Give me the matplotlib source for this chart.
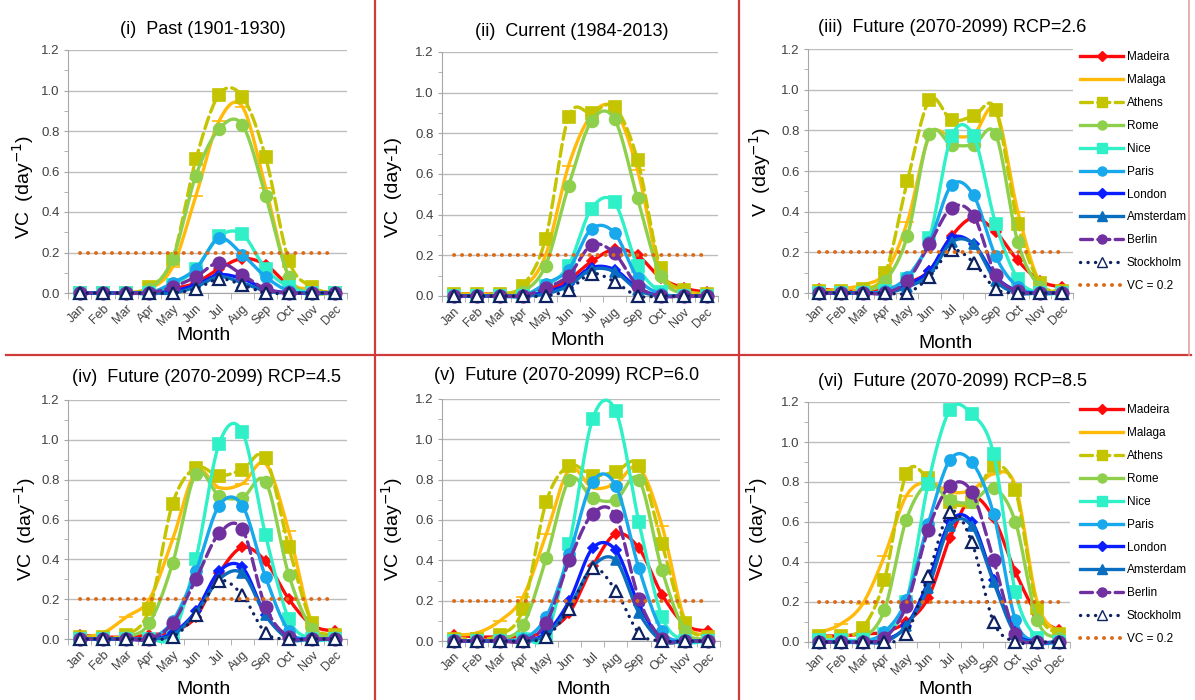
import numpy as np
import matplotlib
matplotlib.use('Agg')
import matplotlib.pyplot as plt
from matplotlib.lines import Line2D

plt.rcParams['font.family'] = ['Liberation Sans', 'DejaVu Sans']

months = ['Jan', 'Feb', 'Mar', 'Apr', 'May', 'Jun', 'Jul', 'Aug', 'Sep', 'Oct', 'Nov', 'Dec']
cities = ['Madeira', 'Malaga', 'Athens', 'Rome', 'Nice', 'Paris', 'London', 'Amsterdam', 'Berlin', 'Stockholm']
vc_threshold = 0.2

# rows follow the order of `cities`, columns Jan..Dec
vc_past = [
    [0, 0, 0, 0, 0.02, 0.05, 0.12, 0.17, 0.14, 0.04, 0.01, 0],
    [0, 0, 0, 0.02, 0.13, 0.48, 0.85, 0.92, 0.52, 0.08, 0.02, 0],
    [0, 0, 0, 0.03, 0.17, 0.66, 0.98, 0.97, 0.67, 0.16, 0.03, 0],
    [0, 0, 0, 0.02, 0.17, 0.58, 0.81, 0.83, 0.48, 0.08, 0, 0],
    [0, 0, 0, 0, 0.04, 0.12, 0.28, 0.29, 0.12, 0.03, 0, 0],
    [0, 0, 0, 0, 0.05, 0.12, 0.27, 0.19, 0.08, 0.01, 0, 0],
    [0, 0, 0, 0, 0.01, 0.04, 0.09, 0.07, 0.02, 0, 0, 0],
    [0, 0, 0, 0, 0, 0.03, 0.08, 0.05, 0.01, 0, 0, 0],
    [0, 0, 0, 0, 0.03, 0.08, 0.15, 0.09, 0.02, 0, 0, 0],
    [0, 0, 0, 0, 0, 0.02, 0.07, 0.04, 0, 0, 0, 0],
]
vc_current = [
    [0.01, 0.01, 0.01, 0.01, 0.03, 0.08, 0.17, 0.23, 0.20, 0.09, 0.04, 0.02],
    [0.01, 0.01, 0.01, 0.04, 0.20, 0.64, 0.89, 0.92, 0.62, 0.12, 0.03, 0.01],
    [0.01, 0.01, 0.01, 0.05, 0.28, 0.88, 0.90, 0.93, 0.67, 0.14, 0.03, 0.01],
    [0, 0, 0, 0.02, 0.15, 0.54, 0.86, 0.87, 0.48, 0.10, 0.01, 0],
    [0, 0, 0, 0, 0.05, 0.15, 0.43, 0.46, 0.15, 0.02, 0, 0],
    [0, 0, 0, 0, 0.06, 0.13, 0.33, 0.31, 0.09, 0.01, 0, 0],
    [0, 0, 0, 0, 0.02, 0.06, 0.14, 0.13, 0.04, 0, 0, 0],
    [0, 0, 0, 0, 0.01, 0.05, 0.13, 0.12, 0.03, 0, 0, 0],
    [0, 0, 0, 0, 0.04, 0.10, 0.25, 0.21, 0.05, 0, 0, 0],
    [0, 0, 0, 0, 0, 0.03, 0.11, 0.07, 0, 0, 0, 0],
]
vc_rcp26 = [
    [0.02, 0.01, 0.01, 0.02, 0.05, 0.11, 0.28, 0.37, 0.30, 0.16, 0.06, 0.03],
    [0.01, 0.02, 0.04, 0.10, 0.35, 0.77, 0.77, 0.78, 0.90, 0.40, 0.05, 0.01],
    [0.01, 0.01, 0.02, 0.10, 0.55, 0.95, 0.85, 0.87, 0.90, 0.34, 0.05, 0.01],
    [0, 0, 0.01, 0.06, 0.28, 0.78, 0.73, 0.73, 0.78, 0.25, 0.03, 0],
    [0, 0, 0, 0.01, 0.07, 0.27, 0.77, 0.77, 0.34, 0.07, 0, 0],
    [0, 0, 0, 0.01, 0.08, 0.25, 0.53, 0.48, 0.18, 0.03, 0, 0],
    [0, 0, 0, 0, 0.04, 0.11, 0.27, 0.24, 0.08, 0.01, 0, 0],
    [0, 0, 0, 0, 0.03, 0.09, 0.25, 0.24, 0.06, 0, 0, 0],
    [0, 0, 0, 0, 0.06, 0.24, 0.42, 0.38, 0.09, 0.01, 0, 0],
    [0, 0, 0, 0, 0, 0.08, 0.21, 0.15, 0.02, 0, 0, 0],
]
vc_rcp45 = [
    [0.02, 0.01, 0.01, 0.02, 0.04, 0.11, 0.33, 0.46, 0.39, 0.20, 0.07, 0.04],
    [0.01, 0.03, 0.11, 0.20, 0.50, 0.84, 0.76, 0.78, 0.88, 0.54, 0.08, 0.02],
    [0.01, 0.01, 0.02, 0.15, 0.68, 0.86, 0.82, 0.85, 0.91, 0.46, 0.08, 0.02],
    [0, 0, 0.01, 0.08, 0.38, 0.83, 0.72, 0.71, 0.79, 0.32, 0.05, 0.01],
    [0, 0, 0, 0, 0.02, 0.40, 0.98, 1.04, 0.52, 0.10, 0, 0],
    [0, 0, 0, 0, 0.09, 0.34, 0.67, 0.67, 0.31, 0.04, 0, 0],
    [0, 0, 0, 0, 0.03, 0.14, 0.34, 0.36, 0.12, 0.01, 0, 0],
    [0, 0, 0, 0, 0.02, 0.13, 0.30, 0.33, 0.12, 0, 0, 0],
    [0, 0, 0, 0, 0.08, 0.30, 0.53, 0.55, 0.16, 0.01, 0, 0],
    [0, 0, 0, 0, 0.01, 0.12, 0.29, 0.22, 0.03, 0, 0, 0],
]
vc_rcp60 = [
    [0.03, 0.02, 0.02, 0.02, 0.05, 0.14, 0.37, 0.53, 0.46, 0.23, 0.08, 0.05],
    [0.03, 0.04, 0.10, 0.22, 0.53, 0.85, 0.76, 0.78, 0.86, 0.57, 0.10, 0.03],
    [0.01, 0.01, 0.03, 0.16, 0.69, 0.87, 0.82, 0.84, 0.87, 0.48, 0.09, 0.02],
    [0, 0, 0.01, 0.08, 0.41, 0.80, 0.71, 0.70, 0.80, 0.35, 0.05, 0.01],
    [0, 0, 0, 0.01, 0.03, 0.48, 1.10, 1.14, 0.59, 0.12, 0, 0],
    [0, 0, 0, 0.01, 0.12, 0.43, 0.79, 0.77, 0.36, 0.05, 0, 0],
    [0, 0, 0, 0, 0.04, 0.20, 0.46, 0.45, 0.18, 0.01, 0, 0],
    [0, 0, 0, 0, 0.03, 0.17, 0.37, 0.40, 0.14, 0, 0, 0],
    [0, 0, 0, 0, 0.09, 0.40, 0.63, 0.62, 0.21, 0.01, 0, 0],
    [0, 0, 0, 0, 0.02, 0.16, 0.36, 0.25, 0.04, 0, 0, 0],
]
vc_rcp85 = [
    [0.03, 0.03, 0.04, 0.05, 0.10, 0.22, 0.52, 0.72, 0.62, 0.35, 0.14, 0.06],
    [0.05, 0.09, 0.19, 0.43, 0.73, 0.80, 0.75, 0.76, 0.84, 0.78, 0.20, 0.05],
    [0.03, 0.03, 0.07, 0.31, 0.84, 0.82, 0.70, 0.70, 0.88, 0.76, 0.17, 0.04],
    [0.01, 0.01, 0.02, 0.16, 0.61, 0.79, 0.71, 0.70, 0.77, 0.60, 0.11, 0.02],
    [0.01, 0.01, 0.01, 0.04, 0.20, 0.79, 1.16, 1.14, 0.94, 0.25, 0.02, 0],
    [0, 0, 0, 0.05, 0.21, 0.59, 0.91, 0.90, 0.64, 0.11, 0, 0],
    [0, 0, 0, 0.01, 0.08, 0.30, 0.60, 0.60, 0.31, 0.05, 0, 0],
    [0, 0, 0, 0, 0.08, 0.27, 0.58, 0.58, 0.30, 0.04, 0, 0],
    [0, 0, 0, 0.02, 0.18, 0.56, 0.78, 0.75, 0.41, 0.04, 0, 0],
    [0, 0, 0, 0, 0.04, 0.33, 0.65, 0.50, 0.10, 0, 0, 0],
]

# colour, linestyle, marker, markersize, marker face
styles = {
    'Madeira':   ('#FF0A0A', '-', 'D', 5, None),
    'Malaga':    ('#FFBA0A', '-', '_', 10, None),
    'Athens':    ('#C4C400', (0, (3.6, 1.6)), 's', 8.5, None),
    'Rome':      ('#8ED04C', '-', 'o', 8.5, None),
    'Nice':      ('#30F0C8', '-', 's', 8, None),
    'Paris':     ('#18A8EC', '-', 'o', 8, None),
    'London':    ('#0A1EFF', '-', 'D', 5, None),
    'Amsterdam': ('#0A6EC0', '-', '^', 6.5, None),
    'Berlin':    ('#7030A0', (0, (3.6, 1.6)), 'o', 9, None),
    'Stockholm': ('#0E2262', (0, (0.05, 2.2)), '^', 8, 'white'),
}
vc_color = '#DE6A16'

W, H = 1195, 700


def smooth(y, n=16):
    # Catmull-Rom curve through the monthly points, like Excel's smoothed line
    y = np.asarray(y, float)
    p = np.concatenate([[y[0]], y, [y[-1]]])
    t = np.linspace(0, 1, n, endpoint=False)
    xs, ys = [], []
    for i in range(len(y) - 1):
        p0, p1, p2, p3 = p[i], p[i + 1], p[i + 2], p[i + 3]
        seg = 0.5 * (2 * p1 + (-p0 + p2) * t + (2 * p0 - 5 * p1 + 4 * p2 - p3) * t ** 2
                     + (-p0 + 3 * p1 - 3 * p2 + p3) * t ** 3)
        xs.append(i + t)
        ys.append(seg)
    xs.append([len(y) - 1])
    ys.append([y[-1]])
    return np.concatenate(xs), np.concatenate(ys)


def rect(l, r, top, bottom):
    return [l / W, 1 - bottom / H, (r - l) / W, (bottom - top) / H]


def ftext(x, y, s, **kw):
    fig.text(x / W, 1 - y / H, s, **kw)


panels = [
    (vc_past, '(i)  Past (1901-1930)', (203, 30), 'VC  (day$^{-1}$)', (23, 187), (203, 335), rect(68, 347, 50, 293), False),
    (vc_current, '(ii)  Current (1984-2013)', (572, 31), 'VC  (day-1)', (393, 187), (577, 340), rect(442, 718, 52, 296), False),
    (vc_rcp26, '(iii)  Future (2070-2099) RCP=2.6', (952, 27), 'V  (day$^{-1}$)', (760, 172), (946, 344), rect(808, 1073, 49, 293), True),
    (vc_rcp45, '(iv)  Future (2070-2099) RCP=4.5', (207, 377), 'VC  (day$^{-1}$)', (25, 529), (203, 690), rect(68, 347, 400, 639), False),
    (vc_rcp60, '(v)  Future (2070-2099) RCP=6.0', (567, 376), 'VC  (day$^{-1}$)', (392, 529), (583, 690), rect(442, 720, 399, 641), False),
    (vc_rcp85, '(vi)  Future (2070-2099) RCP=8.5', (952, 382), 'VC  (day$^{-1}$)', (757, 529), (946, 690), rect(808, 1070, 402, 642), True),
]

fig = plt.figure(figsize=(W / 100, H / 100), dpi=100)
x = np.arange(len(months))
lw = 2.4

for data, title, tpos, ylab, ypos, xpos, box, show_legend in panels:
    ax = fig.add_axes(box)
    ax.set_xlim(-0.5, 11.5)
    ax.set_ylim(0, 1.2)
    ax.set_yticks(np.arange(0, 1.21, 0.2))
    ax.set_yticks(np.arange(0.1, 1.2, 0.2), minor=True)
    ax.set_yticklabels(['%.1f' % v for v in np.arange(0, 1.21, 0.2)])
    ax.set_xticks(x)
    ax.set_xticks(np.arange(-0.5, 12, 1), minor=True)
    ax.set_xticklabels(months, rotation=45, ha='right', rotation_mode='anchor')
    ax.tick_params(axis='x', which='major', length=0, pad=7, labelsize=9, labelcolor='#404040')
    ax.tick_params(axis='x', which='minor', length=4, color='#A6A6A6')
    ax.tick_params(axis='y', which='both', length=3, color='#A6A6A6', labelsize=9.5,
                   labelcolor='#404040', pad=3)
    ax.grid(axis='y', color='#BDBDBD', lw=1)
    ax.set_axisbelow(True)
    for s in ['top', 'right']:
        ax.spines[s].set_visible(False)
    for s in ['left', 'bottom']:
        ax.spines[s].set_color('#A6A6A6')

    for k, city in enumerate(cities):
        col, ls, mk, ms, mfc = styles[city]
        xs, ys = smooth(data[k])
        ax.plot(xs, ys, color=col, ls=ls, lw=lw, dash_capstyle='round',
                clip_on=False, zorder=3 + k)
        ax.plot(x, data[k], ls='none', marker=mk, ms=ms, color=col,
                mfc=mfc if mfc else col, mec=col, mew=1.6 if mfc else 1.2,
                clip_on=False, zorder=3 + k)
    ax.plot(x, np.full(len(months), vc_threshold), color=vc_color, lw=2.8,
            ls=(0, (0.05, 2.0)), dash_capstyle='round', clip_on=False, zorder=15)

    ftext(*tpos, title, ha='center', va='center', fontsize=13)
    ftext(*ypos, ylab, ha='center', va='center', rotation=90, fontsize=14)
    ftext(*xpos, 'Month', ha='center', va='center', fontsize=14)

    if show_legend:
        handles = []
        for city in cities:
            col, ls, mk, ms, mfc = styles[city]
            handles.append(Line2D([], [], color=col, ls=ls, lw=lw, dash_capstyle='round',
                                  marker=mk, ms=min(ms, 6.5), mfc=mfc if mfc else col, mec=col))
        handles.append(Line2D([], [], color=vc_color, lw=2.8, ls=(0, (0.05, 2.0)),
                              dash_capstyle='round'))
        top_px = box[1] * H + box[3] * H
        ax.legend(handles, cities + ['VC = 0.2'], loc='upper left',
                  bbox_to_anchor=(1078 / W, top_px / H), bbox_transform=fig.transFigure,
                  frameon=False, fontsize=8.5, handlelength=3.6, handletextpad=0.35,
                  labelspacing=0.92, borderpad=0.2, borderaxespad=0, numpoints=1)

# red frame lines between the panels
red = '#D03A3A'
for xs_, ys_ in [([6, 1191], [355, 355]), ([375, 375], [0, 700]), ([739, 739], [0, 700])]:
    fig.add_artist(Line2D([v / W for v in xs_], [1 - v / H for v in ys_],
                          transform=fig.transFigure, color=red, lw=1.6))
fig.add_artist(Line2D([1189 / W, 1189 / W], [1, 1 - 355 / H], transform=fig.transFigure,
                      color='#E8A0A0', lw=1.2))

fig.savefig('out.png', dpi=100)
